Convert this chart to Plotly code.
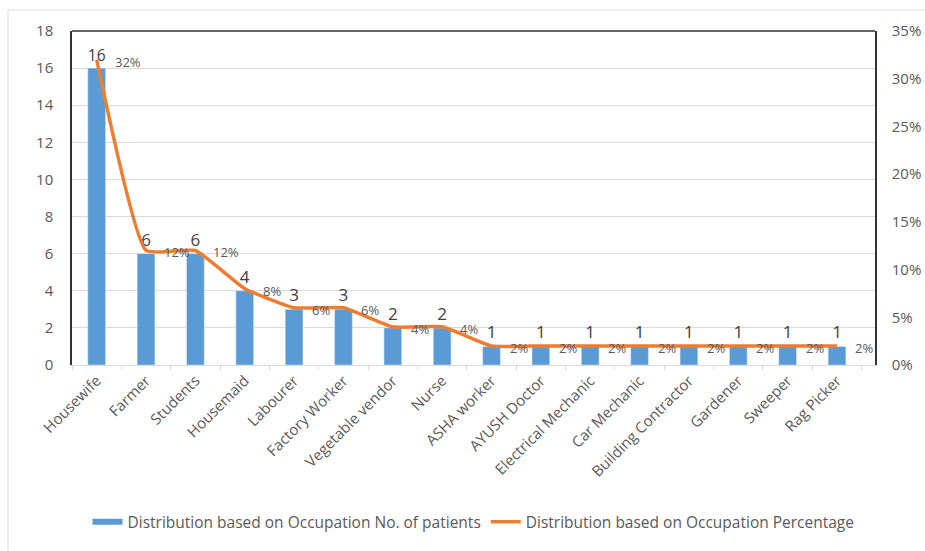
import plotly.graph_objects as go

categories = ["Housewife", "Farmer", "Students", "Housemaid", "Labourer", "Factory Worker",
              "Vegetable vendor", "Nurse", "ASHA worker", "AYUSH Doctor", "Electrical Mechanic",
              "Car Mechanic", "Building Contractor", "Gardener", "Sweeper", "Rag Picker"]
patients = [16, 6, 6, 4, 3, 3, 2, 2, 1, 1, 1, 1, 1, 1, 1, 1]
percentages = [32, 12, 12, 8, 6, 6, 4, 4, 2, 2, 2, 2, 2, 2, 2, 2]
left_ticks = [0, 2, 4, 6, 8, 10, 12, 14, 16, 18]
right_ticks = [0, 5, 10, 15, 20, 25, 30, 35]

FONT = "Open Sans"
GRAY = "#595959"
BLUE = "#5B9BD5"
ORANGE = "#ED7D31"
BAR_NAME = "Distribution based on Occupation No. of patients"
LINE_NAME = "Distribution based on Occupation Percentage"

fig = go.Figure()
fig.add_trace(go.Bar(
    x=categories, y=patients, name=BAR_NAME, showlegend=False,
    marker_color=BLUE, width=0.36,
    text=[str(v) for v in patients], textposition="outside",
    textfont=dict(size=17, color="#404040", family=FONT), cliponaxis=False,
))
# legend entry for the bars (Excel-style wide swatch)
fig.add_trace(go.Scatter(
    x=[None], y=[None], name=BAR_NAME, mode="lines",
    line=dict(color=BLUE, width=6), showlegend=True,
))
fig.add_trace(go.Scatter(
    x=categories, y=percentages, name=LINE_NAME,
    yaxis="y2", mode="lines", line=dict(color=ORANGE, width=3.5, shape="spline", smoothing=0.4),
    cliponaxis=False,
))

annotations = []
for c, p in zip(categories, percentages):
    annotations.append(dict(
        x=c, y=p, xref="x", yref="y2", text=f"{p}%", showarrow=False,
        xanchor="left", yanchor="middle", xshift=16, yshift=-2,
        font=dict(size=13, color=GRAY, family=FONT),
    ))

fig.update_layout(
    width=925, height=551,
    margin=dict(l=72, r=50, t=31, b=186),
    paper_bgcolor="white", plot_bgcolor="white",
    font=dict(family=FONT, color=GRAY, size=14),
    bargap=0.64,
    showlegend=True,
    annotations=annotations,
    legend=dict(orientation="h", x=0.5, xanchor="center", y=-0.42, yanchor="top",
                font=dict(size=15.5, color=GRAY, family=FONT)),
    xaxis=dict(tickangle=-45, tickfont=dict(size=15, color=GRAY), showline=True,
               linecolor="#D9D9D9", ticks="outside", ticklen=4, tickcolor="#D9D9D9",
               tickson="boundaries", showgrid=False, automargin=False),
    yaxis=dict(range=[0, 18], tickvals=left_ticks, showgrid=True, gridcolor="#D9D9D9",
               showline=True, linecolor="#333333", linewidth=1.5, zeroline=False,
               tickfont=dict(size=15, color=GRAY), ticklabelstandoff=14, automargin=False),
    yaxis2=dict(range=[0, 35], tickvals=right_ticks, ticktext=[f"{v}%" for v in right_ticks],
                overlaying="y", side="right", showgrid=False, showline=True,
                linecolor="#333333", linewidth=1.5, zeroline=False,
                tickfont=dict(size=15, color=GRAY), ticklabelstandoff=12, automargin=False),
    shapes=[
        dict(type="line", xref="paper", yref="paper", x0=0, x1=1, y0=1, y1=1,
             line=dict(color="#333333", width=1.5)),
        dict(type="rect", xref="paper", yref="paper", x0=-64/803, x1=1.2, y0=-0.6, y1=1+21/334,
             line=dict(color="#D9D9D9", width=1)),
    ],
)

fig.write_html("out.html")
